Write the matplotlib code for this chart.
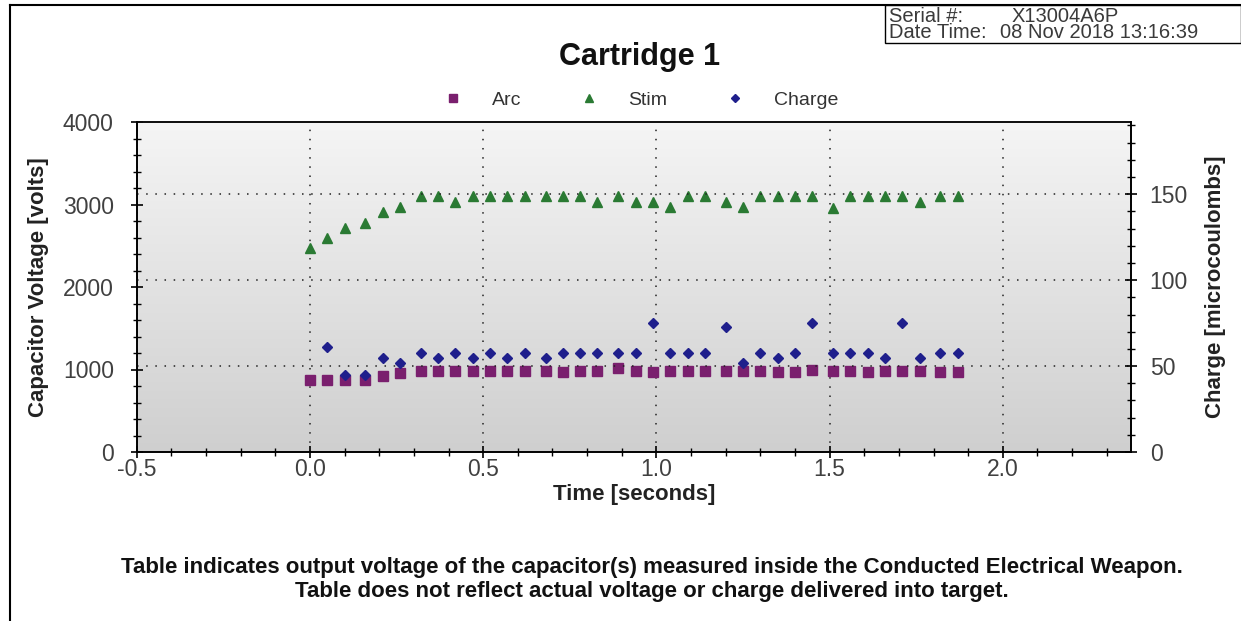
import numpy as np
import matplotlib
matplotlib.use('Agg')
import matplotlib.pyplot as plt
from matplotlib.ticker import MultipleLocator, FormatStrFormatter
from matplotlib.lines import Line2D
from matplotlib.patches import Rectangle
from matplotlib.colors import LinearSegmentedColormap

plt.rcParams['font.family'] = ['Liberation Sans', 'DejaVu Sans']

# pulse times [s]
time_s = [0.00, 0.05, 0.10, 0.16, 0.21, 0.26, 0.32, 0.37, 0.42, 0.47,
          0.52, 0.57, 0.62, 0.68, 0.73, 0.78, 0.83, 0.89, 0.94, 0.99,
          1.04, 1.09, 1.14, 1.20, 1.25, 1.30, 1.35, 1.40, 1.45, 1.51,
          1.56, 1.61, 1.66, 1.71, 1.76, 1.82, 1.87]

arc_v = [873, 873, 873, 873, 925, 954, 985, 985, 985, 985,
         985, 985, 985, 985, 966, 985, 985, 1014, 985, 966,
         985, 985, 985, 985, 985, 985, 966, 966, 994, 985,
         985, 966, 985, 985, 985, 966, 966]

stim_v = [2470, 2590, 2720, 2780, 2910, 2970, 3100, 3100, 3030, 3100,
          3100, 3100, 3100, 3100, 3100, 3100, 3030, 3100, 3030, 3030,
          2970, 3100, 3100, 3030, 2970, 3100, 3100, 3100, 3100, 2960,
          3100, 3100, 3100, 3100, 3030, 3100, 3100]

charge_uc = [np.nan, 60.9, 44.8, 44.8, 54.5, 51.9, 57.4, 54.5, 57.4, 54.5,
             57.4, 54.5, 57.4, 54.5, 57.4, 57.4, 57.4, 57.4, 57.4, 75.2,
             57.4, 57.4, 57.4, 72.9, 51.9, 57.4, 54.5, 57.4, 75.2, 57.4,
             57.4, 57.4, 54.5, 75.2, 54.5, 57.4, 57.4]

W, H = 1241, 621
ARC_C = '#7a1f6e'
STIM_C = '#2a7a33'
CHARGE_C = '#1f1f8c'
TICK_C = '#404040'

fig = plt.figure(figsize=(W / 100, H / 100), dpi=100)
ax = fig.add_axes([136.7 / W, 1 - 452 / H, (1131 - 136.7) / W, (452 - 122) / H])

# gray gradient background
bg = LinearSegmentedColormap.from_list('bg', ['#cfcfcf', '#f5f5f5'])
ax.imshow(np.linspace(0, 1, 256).reshape(-1, 1), extent=[0, 1, 0, 1],
          transform=ax.transAxes, cmap=bg, aspect='auto', origin='lower', zorder=0)

ax.plot(time_s, arc_v, ls='none', marker='s', ms=7, color=ARC_C, zorder=3)
ax.plot(time_s, stim_v, ls='none', marker='^', ms=7, color=STIM_C, zorder=3)

ax.set_xlim(-0.5, 2.37)
ax.set_ylim(0, 4000)
ax.xaxis.set_major_locator(MultipleLocator(0.5))
ax.xaxis.set_minor_locator(MultipleLocator(0.1))
ax.xaxis.set_major_formatter(FormatStrFormatter('%.1f'))
ax.yaxis.set_major_locator(MultipleLocator(1000))
ax.yaxis.set_minor_locator(MultipleLocator(200))
ax.grid(axis='x', color='#222222', ls=(0, (1, 5)), lw=1.1)

ax2 = ax.twinx()
ax2.plot(time_s, charge_uc, ls='none', marker='D', ms=5, color=CHARGE_C, zorder=3)
ax2.set_ylim(0, 192)
ax2.yaxis.set_major_locator(MultipleLocator(50))
ax2.yaxis.set_minor_locator(MultipleLocator(10))
ax2.grid(axis='y', color='#222222', ls=(0, (1, 5)), lw=1.1)

for a in (ax, ax2):
    a.tick_params(which='major', direction='inout', length=9, width=1.2,
                  labelsize=16.5, labelcolor=TICK_C)
    a.tick_params(which='minor', direction='inout', length=6, width=1)
    for s in a.spines.values():
        s.set_linewidth(1.2)
ax.tick_params(axis='y', pad=12)
ax.tick_params(axis='x', pad=0)
ax2.tick_params(axis='y', pad=9)
ax.spines['top'].set_color('#555555')

lab = dict(fontsize=16, fontweight='bold', color='#222222')
ax.set_xlabel('Time [seconds]', labelpad=2, **lab)
ax.set_ylabel('Capacitor Voltage [volts]', labelpad=10, **lab)
ax2.set_ylabel('Charge [microcoulombs]', labelpad=12, **lab)

fig.text(640 / W, 1 - 57 / H, 'Cartridge 1', fontsize=22, fontweight='bold',
         ha='center', va='center', color='#111111')

# legend
handles = [Line2D([], [], ls='none', marker='s', ms=6, color=ARC_C),
           Line2D([], [], ls='none', marker='^', ms=6, color=STIM_C),
           Line2D([], [], ls='none', marker='D', ms=4.5, color=CHARGE_C)]
fig.legend(handles, ['Arc', 'Stim', 'Charge'], loc='center', ncol=3,
           bbox_to_anchor=(641 / W, 1 - 100 / H), frameon=False, fontsize=14,
           handlelength=1, handletextpad=1.5, columnspacing=3.0,
           labelcolor='#333333')

# frame and header box
fig.add_artist(Line2D([10 / W, 10 / W], [0, 1 - 5 / H], color='black', lw=1.5,
                      transform=fig.transFigure))
fig.add_artist(Line2D([10 / W, 1], [1 - 5 / H, 1 - 5 / H], color='black', lw=1.5,
                      transform=fig.transFigure))
fig.add_artist(Rectangle((885 / W, 1 - 43 / H), (W - 885) / W, 38 / H, fill=False,
                         lw=1, ec='black', transform=fig.transFigure))
hdr = dict(fontsize=14.5, color='#3a3a3a', va='center', ha='left')
fig.text(889 / W, 1 - 16 / H, 'Serial #:', **hdr)
fig.text(1012 / W, 1 - 16 / H, 'X13004A6P', **hdr)
fig.text(889 / W, 1 - 33 / H, 'Date Time:', **hdr)
fig.text(1000 / W, 1 - 33 / H, '08 Nov 2018 13:16:39', **hdr)

foot = dict(fontsize=16, fontweight='bold', ha='center', va='center', color='#111111')
fig.text(652 / W, 1 - 567 / H,
         'Table indicates output voltage of the capacitor(s) measured inside the Conducted Electrical Weapon.',
         **foot)
fig.text(652 / W, 1 - 591 / H,
         'Table does not reflect actual voltage or charge delivered into target.', **foot)

fig.savefig('out.png', dpi=100)
